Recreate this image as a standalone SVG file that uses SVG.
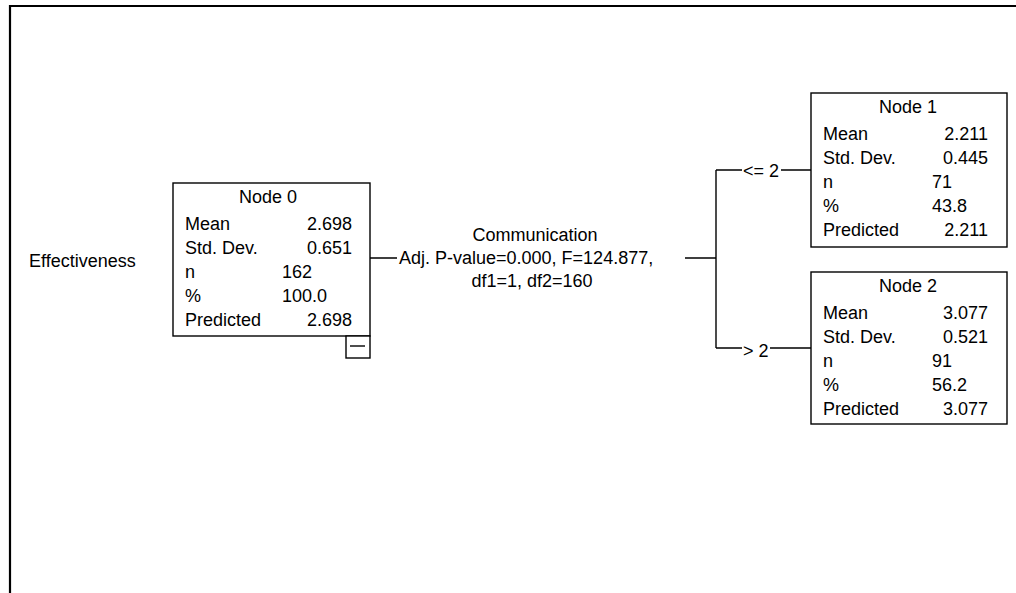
<svg xmlns="http://www.w3.org/2000/svg" width="1016" height="593" viewBox="0 0 1016 593">
<style>
text{font-family:"Liberation Sans",Arial,sans-serif;font-size:18px;fill:#000}
.m{text-anchor:middle}.e{text-anchor:end}
.box{fill:#fff;stroke:#000;stroke-width:1.4}
.ln{stroke:#000;stroke-width:1.4;fill:none}
</style>
<rect width="1016" height="593" fill="#fff"/>
<path d="M10,593 V6 H1016" fill="none" stroke="#000" stroke-width="2.2"/>
<text x="29" y="267">Effectiveness</text>
<g id="connectors">
<path class="ln" d="M370,258 H397 M685,258 H716 M716,170 V348 M716,170 H742 M781,170 H811 M716,348 H742 M770,348 H811"/>
<text class="m" x="535" y="241">Communication</text>
<text x="399" y="264">Adj. P-value=0.000, F=124.877,</text>
<text class="m" x="532" y="287">df1=1, df2=160</text>
<text x="743" y="177">&lt;= 2</text>
<text x="743" y="357">&gt; 2</text>
</g>
<g id="node0">
<rect class="box" x="173" y="183" width="197" height="153"/>
<rect class="box" x="346" y="336" width="24" height="22"/>
<path class="ln" d="M350,346 H365"/>
<text class="m" x="268" y="203">Node 0</text>
<text x="185" y="230">Mean</text>
<text class="e" x="352" y="230">2.698</text>
<text x="185" y="254">Std. Dev.</text>
<text class="e" x="352" y="254">0.651</text>
<text x="185" y="278">n</text>
<text x="282" y="278">162</text>
<text x="185" y="302">%</text>
<text x="282" y="302">100.0</text>
<text x="185" y="326">Predicted</text>
<text class="e" x="352" y="326">2.698</text>
</g>
<g id="node1">
<rect class="box" x="811" y="93" width="196" height="154"/>
<text class="m" x="908" y="113">Node 1</text>
<text x="823" y="140">Mean</text>
<text class="e" x="988" y="140">2.211</text>
<text x="823" y="164">Std. Dev.</text>
<text class="e" x="988" y="164">0.445</text>
<text x="823" y="188">n</text>
<text x="932" y="188">71</text>
<text x="823" y="212">%</text>
<text x="932" y="212">43.8</text>
<text x="823" y="236">Predicted</text>
<text class="e" x="988" y="236">2.211</text>
</g>
<g id="node2">
<rect class="box" x="811" y="272" width="196" height="152"/>
<text class="m" x="908" y="292">Node 2</text>
<text x="823" y="319">Mean</text>
<text class="e" x="988" y="319">3.077</text>
<text x="823" y="343">Std. Dev.</text>
<text class="e" x="988" y="343">0.521</text>
<text x="823" y="367">n</text>
<text x="932" y="367">91</text>
<text x="823" y="391">%</text>
<text x="932" y="391">56.2</text>
<text x="823" y="415">Predicted</text>
<text class="e" x="988" y="415">3.077</text>
</g>
</svg>
